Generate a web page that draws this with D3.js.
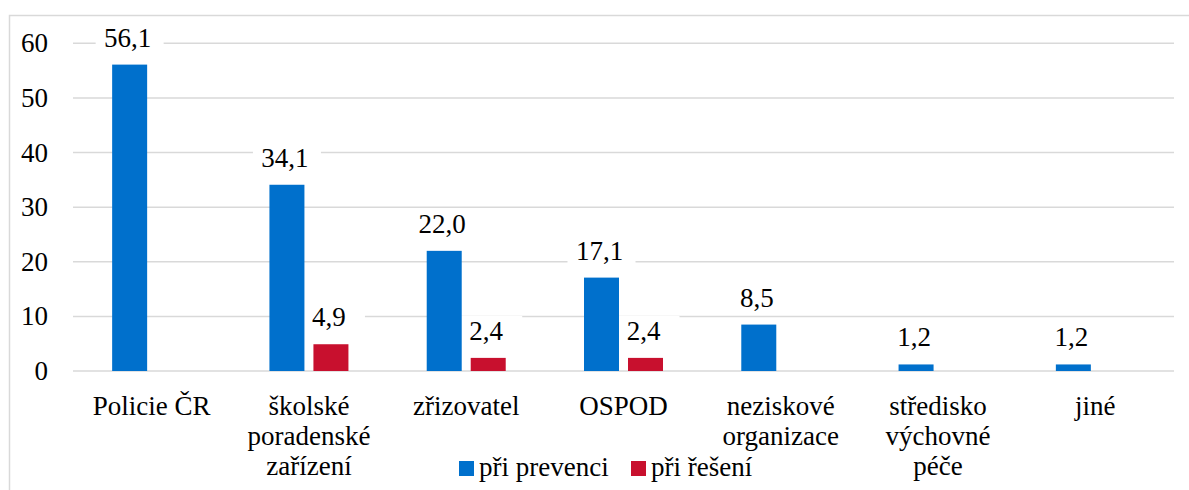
<!DOCTYPE html>
<html><head><meta charset="utf-8">
<script src="https://cdn.jsdelivr.net/npm/d3@7"></script>
<style>body{margin:0;background:#fff}</style>
</head><body><svg id="c" width="1189" height="490"></svg>
<script>
const categories = [["Policie ČR"],["školské","poradenské","zařízení"],["zřizovatel"],["OSPOD"],["neziskové","organizace"],["středisko","výchovné","péče"],["jiné"]];
const prevence = [56.1, 34.1, 22.0, 17.1, 8.5, 1.2, 1.2];
const reseni = [null, 4.9, 2.4, 2.4, null, null, null];
const seriesNames = ["při prevenci", "při řešení"];
const seriesColors = ["#0070cc", "#c8102e"];
const yTicks = [0, 10, 20, 30, 40, 50, 60];

(function(){
const FONT = '"Times New Roman"';
const svg = d3.select("#c");
const FS = 27;
svg.append("rect").attr("x",9.5).attr("y",15.5).attr("width",1200).attr("height",500)
  .attr("fill","none").attr("stroke","#d9d9d9").attr("stroke-width",1.5);

const pl = 73, pr = 1174, pt = 43.3, pb = 371;
const x = d3.scaleBand().domain(d3.range(categories.length)).range([pl,pr]).paddingInner(0).paddingOuter(0);
const y = d3.scaleLinear().domain([0,60]).range([pb, pt]);
const bw = 35, gap = 9;

svg.append("g").selectAll("line").data(yTicks).join("line")
  .attr("x1",pl).attr("x2",pr).attr("y1",d=>y(d)).attr("y2",d=>y(d))
  .attr("stroke","#d9d9d9").attr("stroke-width",1.5);

// y tick labels via scale ticks
svg.append("g").selectAll("text").data(yTicks).join("text")
  .attr("x",48).attr("y",d=>y(d)+9).attr("text-anchor","end")
  .style("font-family",FONT).attr("font-size",FS).text(d=>d3.format("d")(d));

const fmt = v => v.toFixed(1).replace(".", ",");
const series = [prevence, reseni];
const all = [];
series.forEach((vals, si) => {
  const off = -(bw*2+gap)/2 + si*(bw+gap);
  vals.forEach((v,i)=>{ if (v!=null) all.push({v,i,si,bx:x(i)+x.bandwidth()/2+off}); });
});
svg.append("g").selectAll("rect").data(all).join("rect")
  .attr("x", d=>d.bx+bw/2-34).attr("width",68)
  .attr("y", d=>y(d.v)-42).attr("height",30).attr("fill","#fff");
svg.append("g").selectAll("rect").data(all).join("rect")
  .attr("x", d=>d.bx).attr("width",bw)
  .attr("y", d=>y(d.v)).attr("height", d=>y(0)-y(d.v))
  .attr("fill", d=>seriesColors[d.si]);
svg.append("g").selectAll("text").data(all).join("text")
  .attr("x", d=>d.bx+bw/2-2).attr("y", d=>y(d.v)-18)
  .attr("text-anchor","middle").style("font-family",FONT).attr("font-size",FS)
  .text(d=>fmt(d.v));

categories.forEach((lines,i)=>{
  const cx = x(i)+x.bandwidth()/2;
  lines.forEach((l,k)=>svg.append("text").attr("x", cx).attr("y",415+k*30)
    .attr("text-anchor","middle").style("font-family",FONT).attr("font-size",FS).text(l));
});

const legX = [459, 631];
seriesNames.forEach((n,i)=>{
  svg.append("rect").attr("x",legX[i]).attr("y",461).attr("width",15).attr("height",15).attr("fill",seriesColors[i]);
  svg.append("text").attr("x",legX[i]+20).attr("y",476).style("font-family",FONT).attr("font-size",FS).text(n);
});
})();
</script></body></html>
